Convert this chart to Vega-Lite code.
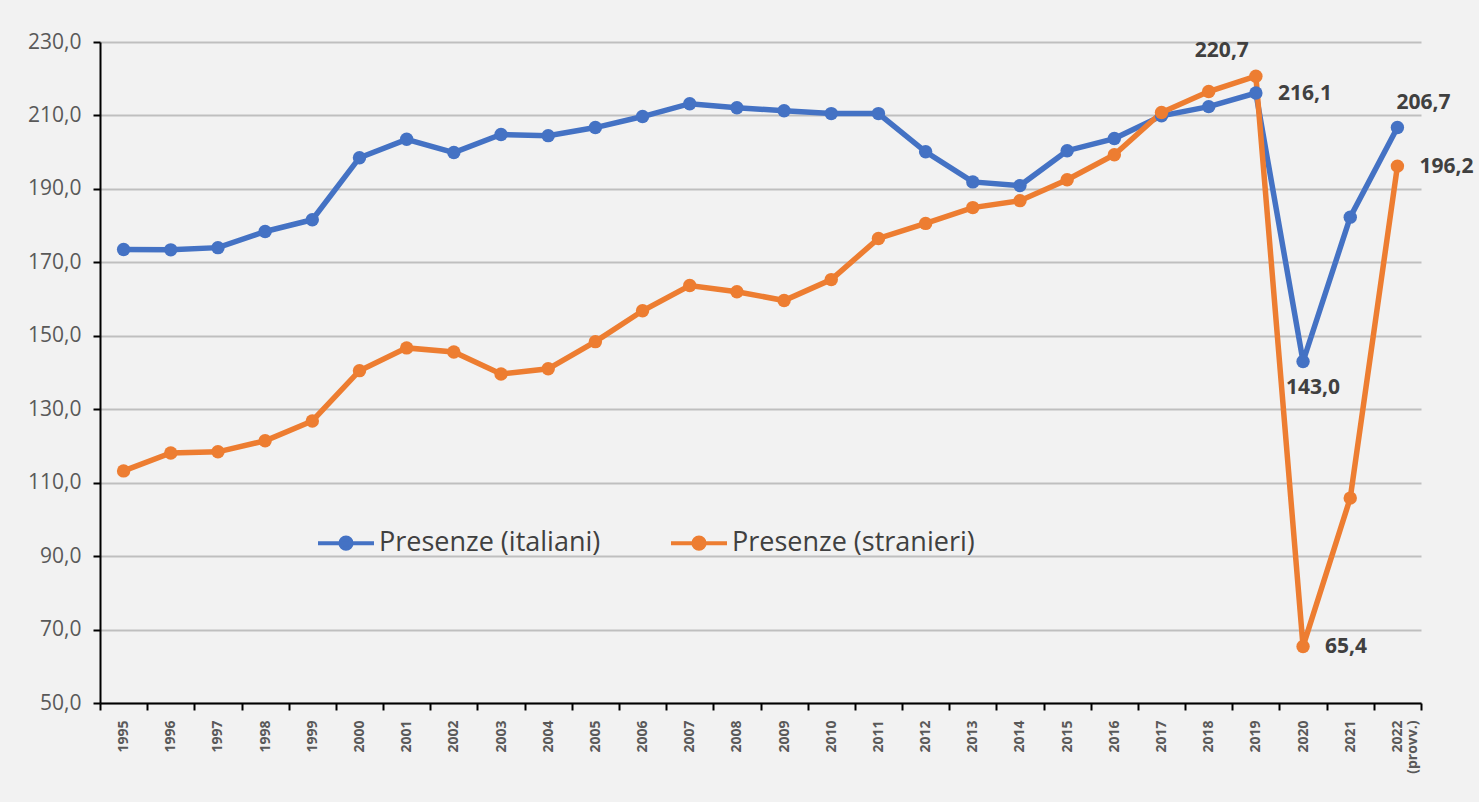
{
  "$schema": "https://vega.github.io/schema/vega-lite/v6.json",
  "width": 1321,
  "height": 661,
  "autosize": {"type": "none"},
  "padding": {"left": 100, "top": 42, "right": 58, "bottom": 99},
  "background": "#f2f2f2",
  "config": {
    "view": {"stroke": null},
    "font": "Open Sans",
    "locale": {"number": {"decimal": ",", "thousands": ".", "grouping": [3], "currency": ["€", ""]}}
  },
  "data": {
    "values": [
      {"year": "1995", "serie": "Presenze (italiani)", "value": 173.5},
      {"year": "1996", "serie": "Presenze (italiani)", "value": 173.4},
      {"year": "1997", "serie": "Presenze (italiani)", "value": 174.0},
      {"year": "1998", "serie": "Presenze (italiani)", "value": 178.4},
      {"year": "1999", "serie": "Presenze (italiani)", "value": 181.6},
      {"year": "2000", "serie": "Presenze (italiani)", "value": 198.5},
      {"year": "2001", "serie": "Presenze (italiani)", "value": 203.5},
      {"year": "2002", "serie": "Presenze (italiani)", "value": 199.9},
      {"year": "2003", "serie": "Presenze (italiani)", "value": 204.8},
      {"year": "2004", "serie": "Presenze (italiani)", "value": 204.5},
      {"year": "2005", "serie": "Presenze (italiani)", "value": 206.7},
      {"year": "2006", "serie": "Presenze (italiani)", "value": 209.7},
      {"year": "2007", "serie": "Presenze (italiani)", "value": 213.2},
      {"year": "2008", "serie": "Presenze (italiani)", "value": 212.1},
      {"year": "2009", "serie": "Presenze (italiani)", "value": 211.3},
      {"year": "2010", "serie": "Presenze (italiani)", "value": 210.5},
      {"year": "2011", "serie": "Presenze (italiani)", "value": 210.5},
      {"year": "2012", "serie": "Presenze (italiani)", "value": 200.1},
      {"year": "2013", "serie": "Presenze (italiani)", "value": 191.9},
      {"year": "2014", "serie": "Presenze (italiani)", "value": 190.9},
      {"year": "2015", "serie": "Presenze (italiani)", "value": 200.4},
      {"year": "2016", "serie": "Presenze (italiani)", "value": 203.7},
      {"year": "2017", "serie": "Presenze (italiani)", "value": 209.9},
      {"year": "2018", "serie": "Presenze (italiani)", "value": 212.4},
      {"year": "2019", "serie": "Presenze (italiani)", "value": 216.1},
      {"year": "2020", "serie": "Presenze (italiani)", "value": 143.0},
      {"year": "2021", "serie": "Presenze (italiani)", "value": 182.3},
      {"year": "2022", "serie": "Presenze (italiani)", "value": 206.7},
      {"year": "1995", "serie": "Presenze (stranieri)", "value": 113.2},
      {"year": "1996", "serie": "Presenze (stranieri)", "value": 118.1},
      {"year": "1997", "serie": "Presenze (stranieri)", "value": 118.4},
      {"year": "1998", "serie": "Presenze (stranieri)", "value": 121.4},
      {"year": "1999", "serie": "Presenze (stranieri)", "value": 126.8},
      {"year": "2000", "serie": "Presenze (stranieri)", "value": 140.5},
      {"year": "2001", "serie": "Presenze (stranieri)", "value": 146.7},
      {"year": "2002", "serie": "Presenze (stranieri)", "value": 145.6},
      {"year": "2003", "serie": "Presenze (stranieri)", "value": 139.6},
      {"year": "2004", "serie": "Presenze (stranieri)", "value": 141.0},
      {"year": "2005", "serie": "Presenze (stranieri)", "value": 148.4},
      {"year": "2006", "serie": "Presenze (stranieri)", "value": 156.8},
      {"year": "2007", "serie": "Presenze (stranieri)", "value": 163.7},
      {"year": "2008", "serie": "Presenze (stranieri)", "value": 162.0},
      {"year": "2009", "serie": "Presenze (stranieri)", "value": 159.6},
      {"year": "2010", "serie": "Presenze (stranieri)", "value": 165.3},
      {"year": "2011", "serie": "Presenze (stranieri)", "value": 176.5},
      {"year": "2012", "serie": "Presenze (stranieri)", "value": 180.6},
      {"year": "2013", "serie": "Presenze (stranieri)", "value": 184.9},
      {"year": "2014", "serie": "Presenze (stranieri)", "value": 186.8},
      {"year": "2015", "serie": "Presenze (stranieri)", "value": 192.5},
      {"year": "2016", "serie": "Presenze (stranieri)", "value": 199.3},
      {"year": "2017", "serie": "Presenze (stranieri)", "value": 210.8},
      {"year": "2018", "serie": "Presenze (stranieri)", "value": 216.5},
      {"year": "2019", "serie": "Presenze (stranieri)", "value": 220.7},
      {"year": "2020", "serie": "Presenze (stranieri)", "value": 65.4},
      {"year": "2021", "serie": "Presenze (stranieri)", "value": 105.8},
      {"year": "2022", "serie": "Presenze (stranieri)", "value": 196.2}
    ]
  },
  "encoding": {
    "x": {
      "field": "year",
      "type": "ordinal",
      "bandPosition": 0.5,
      "scale": {"type": "band", "paddingInner": 0, "paddingOuter": 0},
      "axis": {
        "title": null,
        "grid": false,
        "tickBand": "extent",
        "labelAngle": 270,
        "labelAlign": "right",
        "labelBaseline": "middle",
        "labelFontSize": 14,
        "labelFontWeight": "bold",
        "labelColor": "#595959",
        "labelPadding": 10,
        "labelLineHeight": 15,
        "labelExpr": "datum.value == '2022' ? ['2022', '(provv.)'] : datum.label",
        "tickColor": "black",
        "tickSize": 7,
        "tickWidth": 2,
        "domainColor": "black",
        "domainWidth": 2
      }
    },
    "y": {
      "field": "value",
      "type": "quantitative",
      "scale": {"domain": [50, 230], "nice": false, "zero": false},
      "axis": {
        "title": null,
        "values": [50, 70, 90, 110, 130, 150, 170, 190, 210, 230],
        "format": ".1f",
        "labelFontSize": 21,
        "labelColor": "#595959",
        "labelPadding": 12,
        "tickSize": 7,
        "tickWidth": 2,
        "tickColor": "black",
        "domainColor": "black",
        "domainWidth": 2,
        "gridColor": "#bfbfbf",
        "gridWidth": 2
      }
    }
  },
  "layer": [
    {
      "mark": {"type": "line", "strokeWidth": 5.5, "point": {"filled": true, "size": 180, "opacity": 1}},
      "encoding": {
        "color": {
          "field": "serie",
          "type": "nominal",
          "scale": {"domain": ["Presenze (italiani)", "Presenze (stranieri)"], "range": ["#4472C4", "#ED7D31"]},
          "legend": {
            "title": null,
            "orient": "none",
            "legendX": 216,
            "legendY": 471,
            "direction": "horizontal",
            "columns": 2,
            "padding": 0,
            "symbolType": "M-1,0L1,0M0.2,0A0.2,0.2,0,1,1,-0.2,0A0.2,0.2,0,1,1,0.2,0Z",
            "symbolSize": 3136,
            "symbolStrokeWidth": 4,
            "labelFontSize": 27,
            "labelColor": "#404040",
            "labelOffset": 3,
            "columnPadding": 62,
            "labelLimit": 400,
            "encode": {"symbols": {"update": {"fill": {"scale": "color", "field": "value"}, "fillOpacity": {"value": 1}}}}
          }
        }
      }
    },
    {
      "transform": [{"filter": "(datum.year == '2019' && datum.serie == 'Presenze (italiani)') || (datum.serie == 'Presenze (stranieri)' && (datum.year == '2022' || datum.year == '2020'))"}],
      "mark": {"type": "text", "align": "left", "baseline": "middle", "dx": 22, "dy": 1, "fontSize": 21, "fontWeight": "bold", "color": "#404040"},
      "encoding": {"text": {"field": "value", "type": "quantitative", "format": ".1f"}}
    },
    {
      "transform": [{"filter": "datum.year == '2019' && datum.serie == 'Presenze (stranieri)'"}],
      "mark": {"type": "text", "align": "center", "baseline": "middle", "dx": -34, "dy": -25, "fontSize": 21, "fontWeight": "bold", "color": "#404040"},
      "encoding": {"text": {"field": "value", "type": "quantitative", "format": ".1f"}}
    },
    {
      "transform": [{"filter": "datum.year == '2022' && datum.serie == 'Presenze (italiani)'"}],
      "mark": {"type": "text", "align": "center", "baseline": "middle", "dx": 26, "dy": -25, "fontSize": 21, "fontWeight": "bold", "color": "#404040"},
      "encoding": {"text": {"field": "value", "type": "quantitative", "format": ".1f"}}
    },
    {
      "transform": [{"filter": "datum.year == '2020' && datum.serie == 'Presenze (italiani)'"}],
      "mark": {"type": "text", "align": "center", "baseline": "middle", "dx": 10, "dy": 27, "fontSize": 21, "fontWeight": "bold", "color": "#404040"},
      "encoding": {"text": {"field": "value", "type": "quantitative", "format": ".1f"}}
    }
  ]
}
